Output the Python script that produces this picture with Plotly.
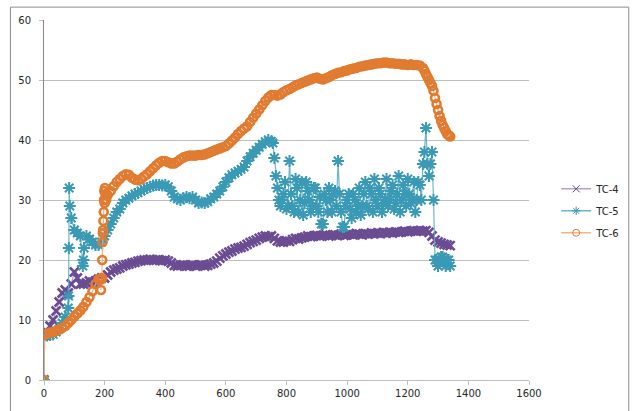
import plotly.graph_objects as go

# Sampling grid (seconds)
T = [0, 2, 10, 20, 30, 40, 50, 60, 70, 80, 90, 100, 110, 120, 130, 140, 150, 160, 170, 180, 190,
     200, 210, 220, 230, 240, 250, 260, 270, 280, 290, 300, 310, 320, 330, 340, 350, 360, 370, 380, 390,
     400, 410, 420, 430, 440, 450, 460, 470, 480, 490, 500, 510, 520, 530, 540, 550, 560, 570, 580, 590,
     600, 610, 620, 630, 640, 650, 660, 670, 680, 690, 700, 710, 720, 730, 740, 750, 760, 770, 780, 790,
     800, 810, 820, 830, 840, 850, 860, 870, 880, 890, 900, 910, 920, 930, 940, 950, 960, 970, 980, 990,
     1000, 1010, 1020, 1030, 1040, 1050, 1060, 1070, 1080, 1090, 1100, 1110, 1120, 1130, 1140, 1150, 1160,
     1170, 1180, 1190, 1200, 1210, 1220, 1230, 1240, 1250, 1260, 1270, 1280, 1290, 1300, 1310, 1320, 1330, 1340]

TC4 = [0, 7.5, 8, 9, 10, 11.5, 13, 14.5, 15, 14.5, 16, 18, 17, 16, 16, 16.2, 16.5, 16.3, 16.5, 16.8, 17,
       17, 17.5, 18, 18.3, 18.5, 18.7, 19, 19.2, 19.3, 19.5, 19.6, 19.8, 19.9, 20, 20, 20.1, 20, 20, 20, 19.9,
       20, 19.8, 19.5, 19.1, 19, 19.1, 19.2, 19, 19, 19.2, 19, 19.1, 19.2, 19, 19.1, 19.3, 19.5, 19.8, 20.3, 20.7,
       21, 21.3, 21.5, 21.8, 22, 22.1, 22.3, 22.6, 22.9, 23.1, 23.3, 23.6, 23.8, 24, 23.9, 24, 23.6, 23.2, 23, 23,
       23.2, 23.1, 23.4, 23.6, 23.5, 23.7, 23.8, 24, 23.9, 24, 24.1, 24, 24.1, 24.2, 24, 24.1, 24.2, 24.1, 24.3, 24.1,
       24.2, 24.3, 24.2, 24.4, 24.3, 24.2, 24.4, 24.3, 24.5, 24.4, 24.5, 24.4, 24.6, 24.5, 24.6, 24.5, 24.7,
       24.6, 24.7, 24.8, 24.7, 24.8, 24.9, 24.8, 24.9, 24.8, 24.9, 24.6, 24, 23.3, 23, 22.8, 22.6, 22.5, 22.4]

TC5 = [0, 7.5, 7.4, 7.5, 7.6, 8, 8.5, 9.5, 10.5, 12, 27, 25, 24.5, 24, 20, 24, 23.5, 23, 22.5, 22.5, 23,
       24, 25, 26, 27, 28, 28.5, 29.5, 30, 30.3, 30.7, 31, 31.2, 31.5, 31.8, 32, 32.2, 32.4, 32.5, 32.5, 32.4,
       32.5, 32.2, 31.5, 30.5, 30.2, 30, 30.3, 30.5, 30.3, 30.5, 30, 29.5, 29.6, 29.5, 29.7, 30.2, 30.5, 31, 31.5, 32.2,
       33, 33.7, 34.2, 34.5, 34.8, 35.1, 35.5, 36.5, 37.2, 37.8, 38.3, 38.8, 39.3, 39.7, 40, 39.8, 37, 32, 29, 31,
       28.5, 36.5, 29, 33.5, 28, 33, 29.5, 31.5, 28, 32, 29, 30.5, 26, 30, 32, 28, 31.5, 36.5, 28, 25.5,
       30, 28.5, 31, 28, 32, 29, 33, 28.5, 31, 33.5, 29, 31, 29.5, 33.5, 30, 32.5, 29.5,
       34, 30, 31, 33.5, 29.5, 33, 30, 32.5, 36, 42, 34, 38, 20, 19, 20.5, 19.5, 20, 19]

TC6 = [0, 7.5, 7.7, 7.9, 8, 8.2, 8.4, 8.7, 9, 9.5, 10, 10.6, 11.1, 11.6, 12.2, 13, 13.8, 14.8, 16, 16.8, 16.8,
       29.5, 30.8, 31.5, 32.3, 33, 33.5, 34, 34.3, 34.2, 33.7, 33.4, 33.3, 33.5, 33.9, 34.3, 34.8, 35.3, 35.8, 36.2, 36.5,
       36.5, 36.3, 36.1, 36.1, 36.4, 36.8, 37.1, 37.3, 37.4, 37.4, 37.4, 37.5, 37.5, 37.6, 37.8, 38, 38.2, 38.4, 38.6, 38.8,
       39, 39.4, 39.9, 40.4, 41, 41.5, 41.9, 42.3, 43, 43.7, 44.4, 45.1, 45.8, 46.5, 47.1, 47.5, 47.5, 47.4, 47.6, 48,
       48.3, 48.5, 48.8, 49.1, 49.3, 49.5, 49.7, 49.9, 50.1, 50.3, 50.4, 50.2, 50.1, 50.3, 50.5, 50.8, 51, 51.2, 51.3, 51.5,
       51.6, 51.8, 51.9, 52, 52.2, 52.3, 52.4, 52.5, 52.6, 52.7, 52.8, 52.8, 52.9, 52.9, 52.8, 52.8, 52.7,
       52.7, 52.6, 52.6, 52.5, 52.6, 52.5, 52.5, 52.4, 52, 51, 50, 49, 47, 45, 43.2, 42, 41, 40.6]

# Extra readings between grid samples
TC5_T_EXTRA = [81, 82, 83, 85, 128, 132, 755, 765, 775,
               785, 795, 805, 815, 825, 835, 845, 855, 865, 875, 885, 895, 905, 915, 925, 935, 945, 955, 965,
               975, 985, 995, 1005, 1015, 1025, 1035, 1045, 1055, 1065, 1075, 1085, 1095, 1105, 1115, 1125,
               1135, 1145, 1155, 1165, 1175, 1185, 1195, 1205, 1215, 1225, 1235, 1245, 1255, 1265, 1275, 1285,
               1295, 1305, 1315, 1325, 1335]
TC5_V_EXTRA = [14, 22, 32, 29, 19, 22, 39.5, 34, 30,
               30, 33, 29, 31, 28, 32, 30, 27.5, 33, 30, 29, 32, 28, 26, 31, 28, 30, 31, 29,
               31, 25.5, 29, 31, 27, 30, 29, 27.5, 31, 29, 32, 28, 30, 32, 28, 30,
               29, 31.5, 28.5, 31, 28, 32.5, 29, 31, 30, 28, 33, 30, 38, 36, 36, 30,
               20, 19.5, 20.5, 19, 20]

TC6_T_EXTRA = [186, 188, 191, 192, 193, 194, 195, 196, 197, 198, 199, 201, 203, 205,
               1255, 1265, 1275, 1285, 1295, 1305, 1315, 1325, 1335]
TC6_V_EXTRA = [16.8, 15, 17, 20, 23, 24.5, 25, 26.5, 28, 30, 31.5, 32, 31, 30,
               51.6, 50.5, 49.5, 48.2, 46, 44, 42.5, 41.5, 40.8]


def merge(t, v, te=(), ve=()):
    pts = sorted(zip(list(t) + list(te), list(v) + list(ve)), key=lambda p: p[0])
    return [p[0] for p in pts], [p[1] for p in pts]


series = [
    ("TC-4", merge(T, TC4), "#6B4C93", "rgba(170,150,200,0.9)", "x-thin-open", 9, 2.6),
    ("TC-5", merge(T, TC5, TC5_T_EXTRA, TC5_V_EXTRA), "#3A9AB5", "rgba(90,175,200,0.9)", "asterisk-open", 10, 2),
    ("TC-6", merge(T, TC6, TC6_T_EXTRA, TC6_V_EXTRA), "#E07B30", "rgba(244,175,130,0.95)", "circle-open", 8, 2.6),
]

fig = go.Figure()
for name, (xs, ys), mcol, lcol, sym, size, mw in series:
    fig.add_trace(go.Scatter(
        x=xs, y=ys, name=name, mode="lines+markers",
        line=dict(color=lcol, width=1.2),
        marker=dict(symbol=sym, size=size, color=mcol, line=dict(width=mw, color=mcol)),
        showlegend=False,
    ))
# legend keys (thin markers, as in the original legend)
for name, _, mcol, lcol, sym, size, mw in series:
    fig.add_trace(go.Scatter(
        x=[None], y=[None], name=name, mode="lines+markers",
        line=dict(color=lcol, width=1.5),
        marker=dict(symbol=sym, size=7, color=mcol, line=dict(width=1, color=mcol)),
        legendgroup=name, showlegend=True,
    ))

fig.update_layout(
    width=637, height=411,
    margin=dict(l=44, r=102, t=20, b=28),
    paper_bgcolor="white", plot_bgcolor="white",
    font=dict(family="DejaVu Sans", size=10, color="#262626"),
    showlegend=True,
    legend=dict(x=1.056, xanchor="left", y=0.47, yanchor="middle",
                traceorder="grouped", tracegroupgap=3,
                font=dict(family="DejaVu Sans", size=10, color="#262626"),
                bgcolor="rgba(0,0,0,0)"),
    xaxis=dict(range=[0, 1600], dtick=200, tick0=0, showgrid=False, zeroline=False,
               showline=True, linecolor="#BFBFBF", linewidth=1,
               ticks="outside", ticklen=4, tickcolor="#BFBFBF", tickwidth=1),
    yaxis=dict(range=[0, 60], dtick=10, tick0=0, showgrid=True, gridcolor="#BFBFBF", gridwidth=1,
               zeroline=False, showline=True, linecolor="#868686", linewidth=1,
               ticks="outside", ticklen=4, tickcolor="#BFBFBF", tickwidth=1,
               ticklabelstandoff=6),
    shapes=[dict(type="rect", xref="paper", yref="paper",
                 x0=-0.0692, x1=1.2057, y0=-0.2, y1=1.0358,
                 line=dict(color="#8C8C8C", width=1), fillcolor="rgba(0,0,0,0)", layer="below")],
)

fig.write_html("out.html", config={"displayModeBar": False},
               post_script="document.body.style.margin='0';document.body.style.overflow='hidden';")
